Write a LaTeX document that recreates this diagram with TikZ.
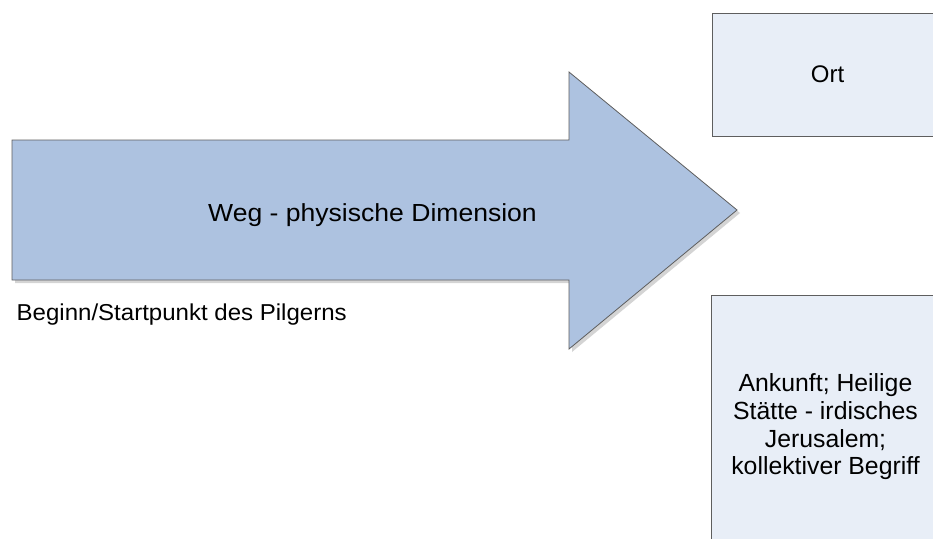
\documentclass[tikz,border=0pt]{standalone}
\usepackage{fontspec}
\setmainfont{Liberation Sans}
\definecolor{arrowfill}{HTML}{ADC2E0}
\definecolor{boxfill}{HTML}{E8EEF7}
\definecolor{edgegray}{HTML}{5E5E5E}
\definecolor{shadowgray}{HTML}{D4D4D4}
\begin{document}
\begin{tikzpicture}[x=1pt,y=-1pt,
  boxshape/.style={draw=edgegray, fill=boxfill, line width=1pt},
  arrowshape/.style={draw=edgegray, fill=arrowfill, line width=0.8pt, line join=miter},
  lbl/.style={inner sep=0pt, text=black}
]
\useasboundingbox (0,0) rectangle (933,538);
\clip (0,0) rectangle (933,538);
% arrow shadow
\fill[shadowgray] (15,143) -- (572,143) -- (572,75) -- (740,213) -- (572,352) -- (572,283) -- (15,283) -- cycle;
% arrow
\draw[arrowshape] (12,140) -- (569,140) -- (569,72) -- (737,210) -- (569,349) -- (569,280) -- (12,280) -- cycle;
% boxes
\draw[boxshape] (712.5,13.5) rectangle (945,136.5);
\draw[boxshape] (711.5,295.5) rectangle (945,550);
% texts
\node[lbl, anchor=base, font=\fontsize{24.7}{28}\selectfont] (weg) at (372.5,221) {\scalebox{1.075}[1]{Weg - physische Dimension}};
\node[lbl, anchor=base west, font=\fontsize{23}{28}\selectfont] (beginn) at (16.5,320) {\scalebox{1.045}[1]{Beginn/Startpunkt des Pilgerns}};
\node[lbl, anchor=base, font=\fontsize{24}{28}\selectfont] (ort) at (827.5,82) {Ort};
\node[lbl, align=center, anchor=center, font=\fontsize{24.8}{27.7}\selectfont] (ankunft) at (825.5,427) {Ankunft; Heilige\\St\"atte - irdisches\\Jerusalem;\\kollektiver Begriff};
\end{tikzpicture}
\end{document}
